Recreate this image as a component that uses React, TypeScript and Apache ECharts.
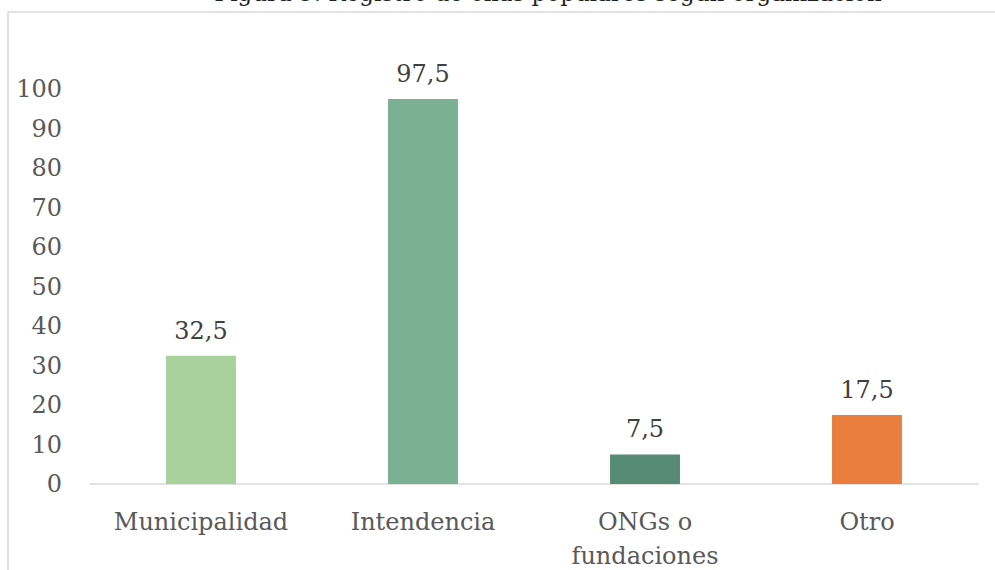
import React, { useEffect, useRef } from "react";
import * as echarts from "echarts";

const categories = ["Municipalidad", "Intendencia", "ONGs o\nfundaciones", "Otro"];
const values = [32.5, 97.5, 7.5, 17.5];
const barColors = ["#A8D19B", "#7AB192", "#568B78", "#E97E3F"];
const titleText = "Figura 9. Registro de ollas populares según organización";

const FONT = "DejaVu Serif";
const FS = 24;

export default function App() {
  const ref = useRef<HTMLDivElement>(null);
  useEffect(() => {
    if (!ref.current) return;
    const chart = echarts.init(ref.current, undefined, { renderer: "svg" });
    chart.setOption({
      animation: false,
      graphic: [
        {
          type: "rect",
          shape: { x: 8, y: 12, width: 1100, height: 700 },
          style: { fill: "none", stroke: "#D9D9D9", lineWidth: 1.5 },
          silent: true,
        },
        {
          type: "text",
          x: 548,
          y: -19,
          style: {
            text: titleText,
            font: `23px "${FONT}"`,
            fill: "#222222",
            textAlign: "center",
            textVerticalAlign: "top",
          },
        },
      ],
      grid: { left: 90, right: 17, top: 89, bottom: 86, outerBoundsMode: "none", containLabel: false },
      xAxis: {
        type: "category",
        data: categories,
        axisLine: { lineStyle: { color: "#D9D9D9", width: 1.5 } },
        axisTick: { show: false },
        axisLabel: {
          interval: 0,
          hideOverlap: false,
          color: "#595959",
          fontFamily: FONT,
          fontSize: FS,
          margin: 21,
          lineHeight: 34,
          verticalAlign: "top",
        },
      },
      yAxis: {
        type: "value",
        min: 0,
        max: 100,
        interval: 10,
        splitLine: { show: false },
        axisLine: { show: false },
        axisTick: { show: false },
        axisLabel: {
          color: "#595959",
          fontFamily: FONT,
          fontSize: FS,
          margin: 28,
        },
      },
      series: [
        {
          type: "bar",
          barWidth: "31.5%",
          data: values.map((v, i) => ({ value: v, itemStyle: { color: barColors[i] } })),
          label: {
            show: true,
            position: "top",
            distance: 13,
            color: "#404040",
            fontFamily: FONT,
            fontSize: FS,
            formatter: (p: any) => String(p.value).replace(".", ","),
          },
        },
      ],
    });
    return () => chart.dispose();
  }, []);
  return (
    <div
      ref={ref}
      style={{ position: "fixed", left: 0, top: 0, width: 995, height: 570, background: "#fff" }}
    />
  );
}
